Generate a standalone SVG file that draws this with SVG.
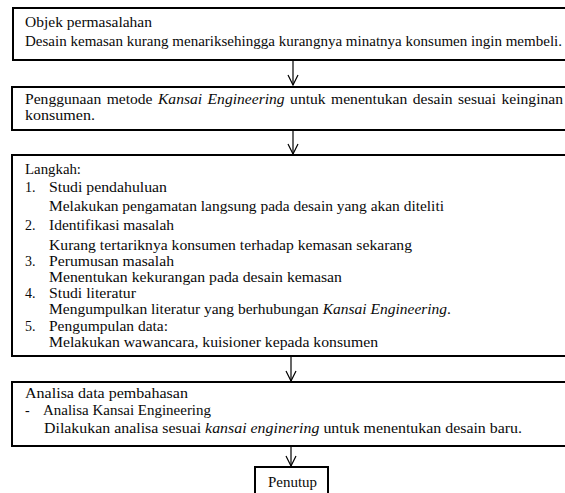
<svg xmlns="http://www.w3.org/2000/svg" width="565" height="493" viewBox="0 0 565 493">
<style>
.box{fill:#fff;stroke:#000;stroke-width:2}
text{font-family:'Liberation Serif','Times New Roman',serif;font-size:14px;fill:#0a0a0a}
.i{font-style:italic}
.c{stroke:#000;stroke-width:1.2;fill:none}
</style>
<defs>
<marker id="arr" viewBox="-11 -6 12 12" refX="0" refY="0" markerWidth="12" markerHeight="12" orient="auto" markerUnits="userSpaceOnUse">
<path d="M-10,-5 L0,0 L-10,5" fill="none" stroke="#000" stroke-width="1.2"/>
</marker>
</defs>
<rect width="565" height="493" fill="#fff"/>
<g id="connectors">
<line class="c" x1="293" y1="61" x2="293" y2="85" marker-end="url(#arr)"/>
<line class="c" x1="293" y1="131" x2="293" y2="154" marker-end="url(#arr)"/>
<line class="c" x1="291" y1="357" x2="291" y2="381" marker-end="url(#arr)"/>
<line class="c" x1="291" y1="447" x2="291" y2="466" marker-end="url(#arr)"/>
</g>
<g id="node-objek">
<rect class="box" x="13" y="8" width="560" height="52"/>
<text x="25" y="27" textLength="127" lengthAdjust="spacingAndGlyphs">Objek permasalahan</text>
<text x="25" y="46" textLength="537" lengthAdjust="spacingAndGlyphs">Desain kemasan kurang menariksehingga kurangnya minatnya konsumen ingin membeli.</text>
</g>
<g id="node-metode">
<rect class="box" x="12" y="87" width="561" height="43"/>
<text x="25" y="104" textLength="538" lengthAdjust="spacingAndGlyphs" word-spacing="1.4">Penggunaan metode <tspan class="i">Kansai Engineering</tspan> untuk menentukan desain sesuai keinginan</text>
<text x="25" y="120" textLength="70" lengthAdjust="spacingAndGlyphs">konsumen.</text>
</g>
<g id="node-langkah">
<rect class="box" x="12" y="155" width="561" height="201"/>
<text x="25" y="174" textLength="56" lengthAdjust="spacingAndGlyphs">Langkah:</text>
<text x="25" y="192">1.</text>
<text x="49" y="192" textLength="118" lengthAdjust="spacingAndGlyphs">Studi pendahuluan</text>
<text x="49" y="211" textLength="395" lengthAdjust="spacingAndGlyphs">Melakukan pengamatan langsung pada desain yang akan diteliti</text>
<text x="25" y="230">2.</text>
<text x="49" y="230" textLength="125" lengthAdjust="spacingAndGlyphs">Identifikasi masalah</text>
<text x="49" y="250" textLength="363" lengthAdjust="spacingAndGlyphs">Kurang tertariknya konsumen terhadap kemasan sekarang</text>
<text x="25" y="266">3.</text>
<text x="49" y="266" textLength="125" lengthAdjust="spacingAndGlyphs">Perumusan masalah</text>
<text x="49" y="282" textLength="293" lengthAdjust="spacingAndGlyphs">Menentukan kekurangan pada desain kemasan</text>
<text x="25" y="298">4.</text>
<text x="49" y="298" textLength="87" lengthAdjust="spacingAndGlyphs">Studi literatur</text>
<text x="49" y="314" textLength="402" lengthAdjust="spacingAndGlyphs">Mengumpulkan literatur yang berhubungan <tspan class="i">Kansai Engineering</tspan>.</text>
<text x="25" y="331">5.</text>
<text x="49" y="331" textLength="119" lengthAdjust="spacingAndGlyphs">Pengumpulan data:</text>
<text x="49" y="347" textLength="329" lengthAdjust="spacingAndGlyphs">Melakukan wawancara, kuisioner kepada konsumen</text>
</g>
<g id="node-analisa">
<rect class="box" x="12" y="382" width="561" height="64"/>
<text x="25" y="398" textLength="163" lengthAdjust="spacingAndGlyphs">Analisa data pembahasan</text>
<text x="25" y="415">-</text>
<text x="43" y="415" textLength="168" lengthAdjust="spacingAndGlyphs">Analisa Kansai Engineering</text>
<text x="44" y="433" textLength="478" lengthAdjust="spacingAndGlyphs">Dilakukan analisa sesuai <tspan class="i">kansai enginering</tspan> untuk menentukan desain baru.</text>
</g>
<g id="node-penutup">
<rect class="box" x="255" y="467" width="73" height="40"/>
<text x="268" y="487" textLength="49" lengthAdjust="spacingAndGlyphs">Penutup</text>
</g>
</svg>
